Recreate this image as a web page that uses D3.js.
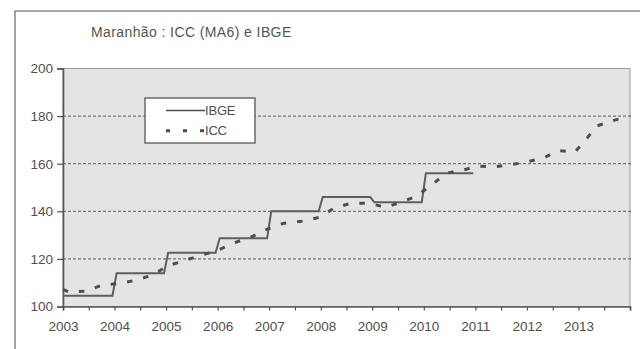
<!DOCTYPE html>
<html>
<head>
<meta charset="utf-8">
<script src="https://cdn.jsdelivr.net/npm/d3@7"></script>
<style>
  html, body { margin: 0; padding: 0; background: #ffffff; }
  svg { display: block; font-family: "Liberation Sans", Arial, sans-serif; }
</style>
</head>
<body>
<svg id="chart" width="640" height="349"></svg>
<script>
// Annual IBGE index (held constant through each year)
const ibgeYears = [2003, 2004, 2005, 2006, 2007, 2008, 2009, 2010];
const ibgeValues = [104.5, 114, 122.6, 128.7, 140, 146, 143.8, 156];

// ICC, 6-month moving average (MA6), dated in decimal years
const iccDates = [2003.00, 2003.12, 2003.30, 2003.45, 2003.76, 2004.09, 2004.43, 2004.76,
                  2005.03, 2005.33, 2005.67, 2005.96, 2006.30, 2006.66, 2006.95, 2007.27,
                  2007.63, 2007.96, 2008.26, 2008.59, 2008.92, 2009.27, 2009.58, 2009.86,
                  2010.15, 2010.44, 2010.77, 2011.06, 2011.37, 2011.67, 2012.01, 2012.33,
                  2012.61, 2012.93, 2013.13, 2013.35, 2013.60, 2013.75, 2013.85];
const iccValues = [107.2, 106.0, 106.3, 106.5, 109.0, 109.7, 111.1, 113.4,
                   117.1, 119.1, 121.5, 123.2, 126.6, 129.3, 132.4, 134.9,
                   135.8, 137.4, 141.3, 143.4, 143.4, 141.7, 144.0, 146.4,
                   151.1, 156.0, 157.4, 159.0, 158.7, 159.5, 160.8, 162.5,
                   165.5, 164.9, 169.7, 175.8, 177.6, 178.6, 178.2];

const yTickValues = [100, 120, 140, 160, 180, 200];
const gridValues = [120, 140, 160, 180];
const xLabelYears = [2003, 2004, 2005, 2006, 2007, 2008, 2009, 2010, 2011, 2012, 2013];
const xTickValues = d3.range(2003, 2014.01, 0.5);

const titleText = "Maranhão : ICC (MA6) e IBGE";
const seriesNames = ["IBGE", "ICC"];

const svg = d3.select("#chart");
const plot = { left: 63, right: 630, top: 68.5, bottom: 306.5 };

const x = d3.scaleLinear().domain([2003, 2014]).range([plot.left, plot.right]);
const y = d3.scaleLinear().domain([100, 200]).range([plot.bottom, plot.top]);

// outer frame of the chart object
svg.append("path")
  .attr("d", "M15,349 V11 H640")
  .attr("fill", "none")
  .attr("stroke", "#8c8c8c")
  .attr("stroke-width", 1.6);

// title
svg.append("text")
  .attr("x", 91).attr("y", 37)
  .attr("font-size", 14)
  .attr("fill", "#555555")
  .attr("letter-spacing", 0.4)
  .text(titleText);

// plot area background
svg.append("rect")
  .attr("x", plot.left).attr("y", plot.top)
  .attr("width", plot.right - plot.left).attr("height", plot.bottom - plot.top)
  .attr("fill", "#e4e4e7")
  .attr("stroke", "#9a9a9a")
  .attr("stroke-width", 1);

// dashed horizontal gridlines
svg.append("g").selectAll("line")
  .data(gridValues)
  .join("line")
  .attr("x1", plot.left).attr("x2", plot.right + 3)
  .attr("y1", d => y(d)).attr("y2", d => y(d))
  .attr("stroke", "#5a5a5a")
  .attr("stroke-width", 1)
  .attr("stroke-dasharray", "3,2");

// axes
const yAxis = d3.axisLeft(y).tickValues(yTickValues).tickSize(6).tickPadding(4).tickFormat(d3.format("d"));
const gy = svg.append("g").attr("transform", `translate(${plot.left},0)`).call(yAxis);

const xAxis = d3.axisBottom(x).tickValues(xTickValues).tickSize(4).tickPadding(11)
  .tickFormat(d => xLabelYears.includes(d) ? String(d) : "");
const gx = svg.append("g").attr("transform", `translate(0,${plot.bottom})`).call(xAxis);

[gx, gy].forEach(g => {
  g.select(".domain").attr("stroke", "#555").attr("stroke-width", 1.6);
  g.selectAll(".tick line").attr("stroke", "#555").attr("stroke-width", 1.2);
  g.selectAll(".tick text")
    .attr("font-family", "'Liberation Sans', Arial, sans-serif")
    .attr("font-size", 13.5)
    .attr("fill", "#4f4f4f");
});

// IBGE: constant within each year, rising in January
const ibgePoints = [];
ibgeYears.forEach((yr, i) => {
  ibgePoints.push([yr + (i === 0 ? 0 : 0.04), ibgeValues[i]]);
  ibgePoints.push([yr + 0.96, ibgeValues[i]]);
});
const line = d3.line().x(d => x(d[0])).y(d => y(d[1]));

svg.append("path")
  .datum(ibgePoints)
  .attr("d", line)
  .attr("fill", "none")
  .attr("stroke", "#5e5e5e")
  .attr("stroke-width", 2);

// ICC dashed line
const iccPoints = iccDates.map((d, i) => [d, iccValues[i]]);
svg.append("path")
  .datum(iccPoints)
  .attr("d", line)
  .attr("fill", "none")
  .attr("stroke", "#4e4e4e")
  .attr("stroke-width", 3)
  .attr("stroke-dasharray", "5.5,11");

// legend
const lg = svg.append("g");
lg.append("rect")
  .attr("x", 145).attr("y", 98).attr("width", 110).attr("height", 45)
  .attr("fill", "#ffffff").attr("stroke", "#555").attr("stroke-width", 1.3);
lg.append("line")
  .attr("x1", 166).attr("x2", 205).attr("y1", 110.5).attr("y2", 110.5)
  .attr("stroke", "#4e4e4e").attr("stroke-width", 1.6);
lg.append("line")
  .attr("x1", 166).attr("x2", 205).attr("y1", 130.7).attr("y2", 130.7)
  .attr("stroke", "#4e4e4e").attr("stroke-width", 3)
  .attr("stroke-dasharray", "4,13");
lg.selectAll("text")
  .data(seriesNames)
  .join("text")
  .attr("x", 205)
  .attr("y", (d, i) => 115 + i * 20.2)
  .attr("font-size", 13)
  .attr("fill", "#4f4f4f")
  .attr("letter-spacing", -0.2)
  .text(d => d);
</script>
</body>
</html>
